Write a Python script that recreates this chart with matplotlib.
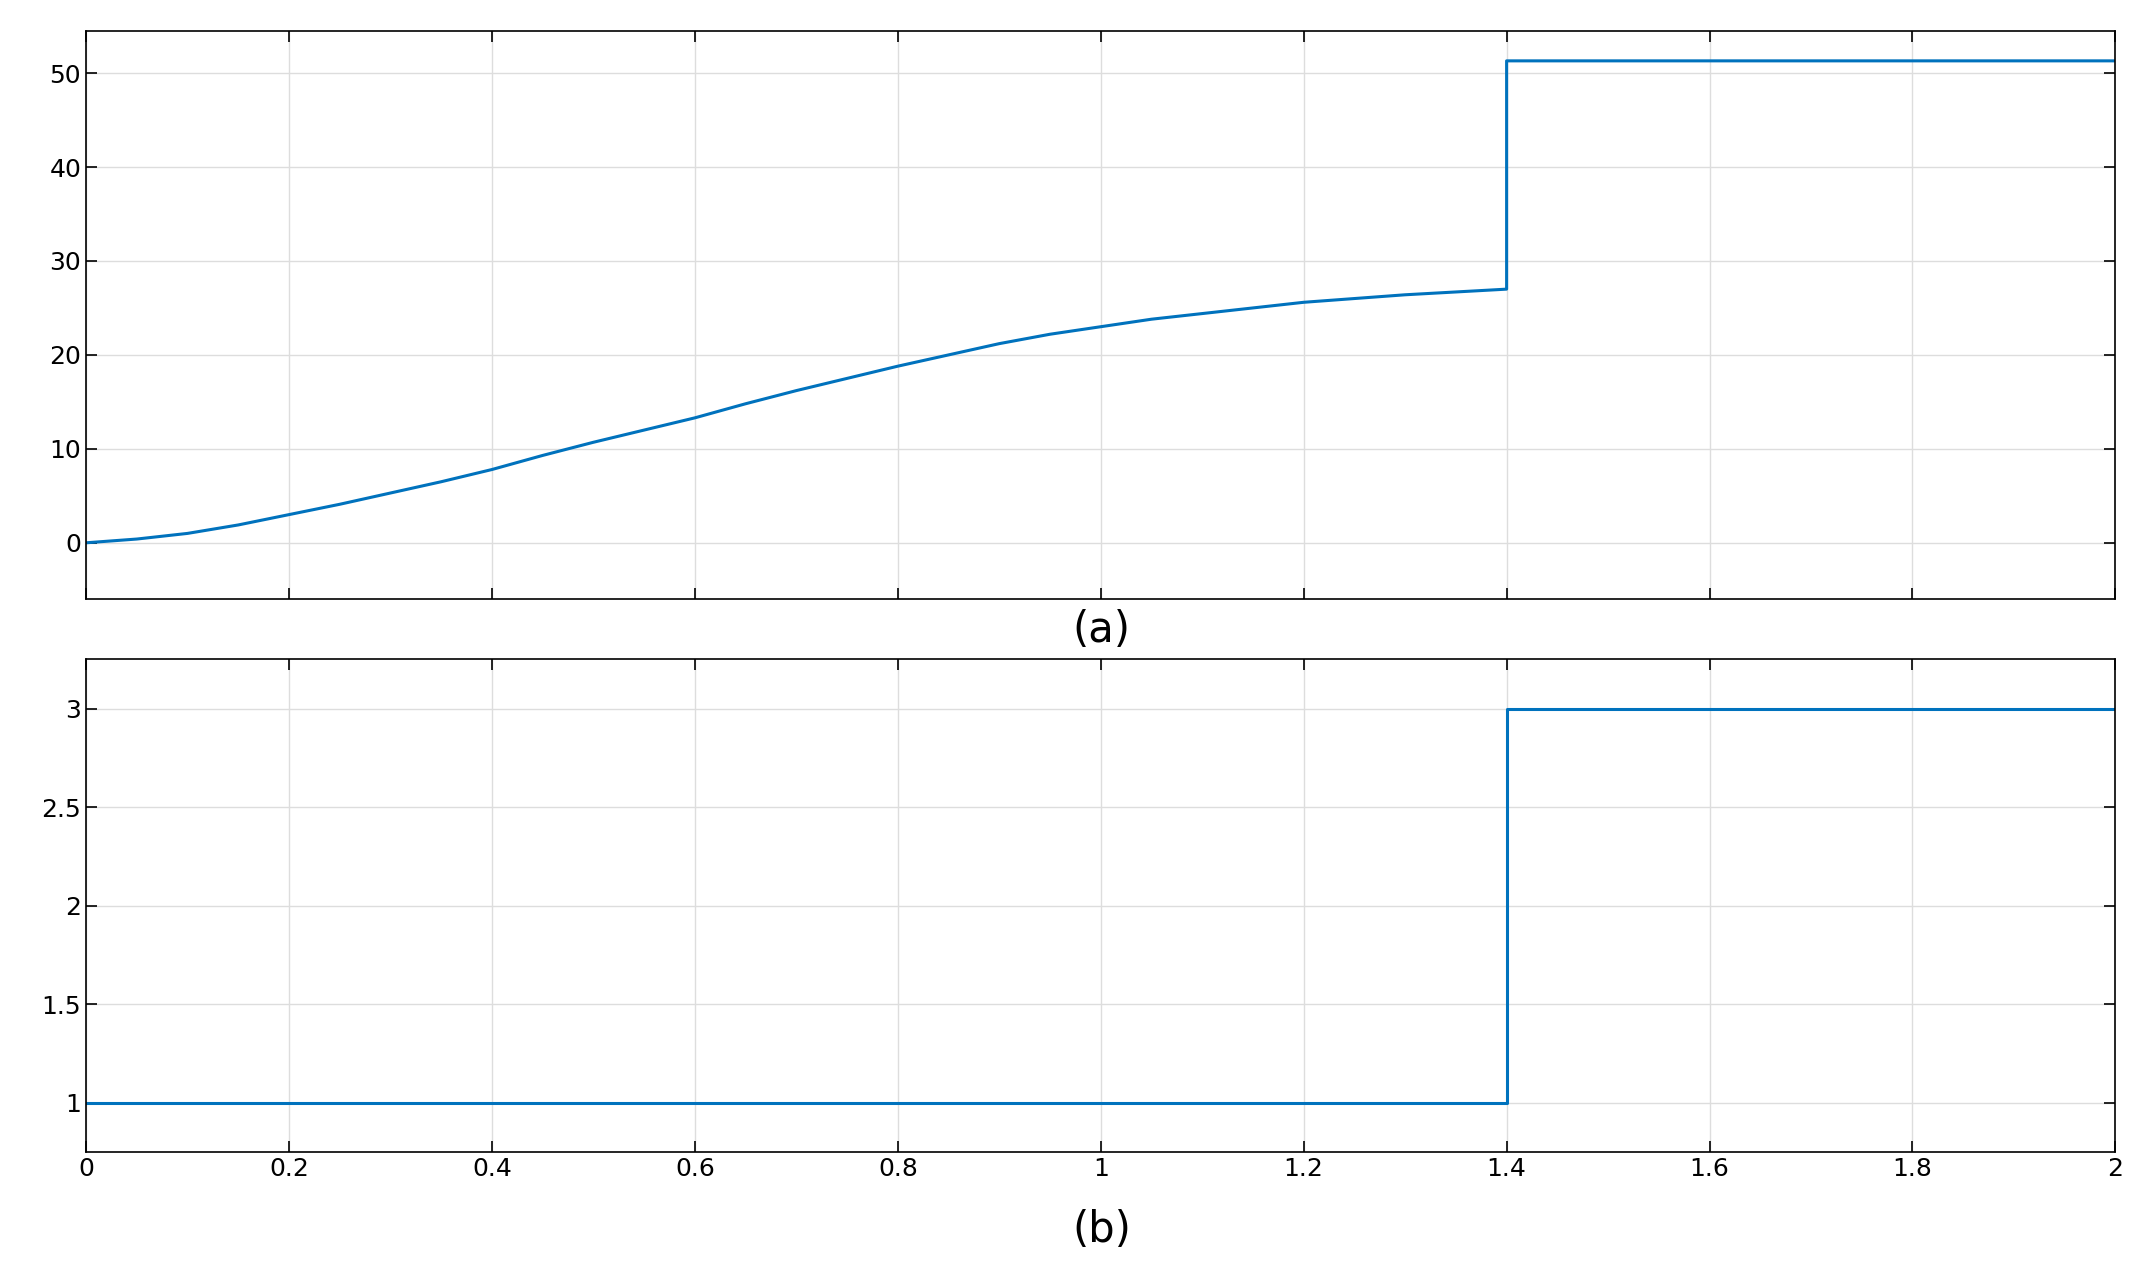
import matplotlib
matplotlib.use("Agg")
import matplotlib.pyplot as plt
import numpy as np

t_a = [0, 0.05, 0.1, 0.15, 0.2, 0.25, 0.3, 0.35, 0.4, 0.45, 0.5, 0.55, 0.6, 0.65, 0.7, 0.75, 0.8, 0.85, 0.9, 0.95,
       1.0, 1.05, 1.1, 1.15, 1.2, 1.25, 1.3, 1.35, 1.4, 1.4, 2.0]
v_a = [0, 0.4, 1.0, 1.9, 3.0, 4.1, 5.3, 6.5, 7.8, 9.3, 10.7, 12.0, 13.3, 14.8, 16.2, 17.5, 18.8, 20.0, 21.2, 22.2,
       23.0, 23.8, 24.4, 25.0, 25.6, 26.0, 26.4, 26.7, 27.0, 51.3, 51.3]
t_b = [0, 1.4, 1.4, 2.0]
v_b = [1, 1, 3, 3]
xticks = [0, 0.2, 0.4, 0.6, 0.8, 1, 1.2, 1.4, 1.6, 1.8, 2]
xlabels = ["0", "0.2", "0.4", "0.6", "0.8", "1", "1.2", "1.4", "1.6", "1.8", "2"]

fig = plt.figure(figsize=(21.52, 12.83), dpi=100)
ax1 = fig.add_axes([0.040, 0.533, 0.943, 0.443])
ax2 = fig.add_axes([0.040, 0.102, 0.943, 0.384])
col = "#0072BD"
ax1.plot(t_a, v_a, color=col, lw=2.2)
ax2.plot(t_b, v_b, color=col, lw=2.2)
ax1.set_ylim(-6, 54.5); ax1.set_yticks([0, 10, 20, 30, 40, 50])
ax2.set_ylim(0.75, 3.25); ax2.set_yticks([1, 1.5, 2, 2.5, 3]); ax2.set_yticklabels(["1", "1.5", "2", "2.5", "3"])
for ax in (ax1, ax2):
    ax.set_xlim(0, 2)
    ax.set_xticks(xticks)
    ax.grid(True, color="#dddddd", lw=1)
    ax.tick_params(direction="in", top=True, right=True, labelsize=18, length=8, width=1.2)
    for s in ax.spines.values():
        s.set_linewidth(1.2)
ax1.set_xticklabels([])
ax2.set_xticklabels(xlabels)
fig.text(0.512, 0.509, "(a)", ha="center", va="center", fontsize=30)
fig.text(0.512, 0.041, "(b)", ha="center", va="center", fontsize=30)
fig.savefig("out.png", dpi=100)
